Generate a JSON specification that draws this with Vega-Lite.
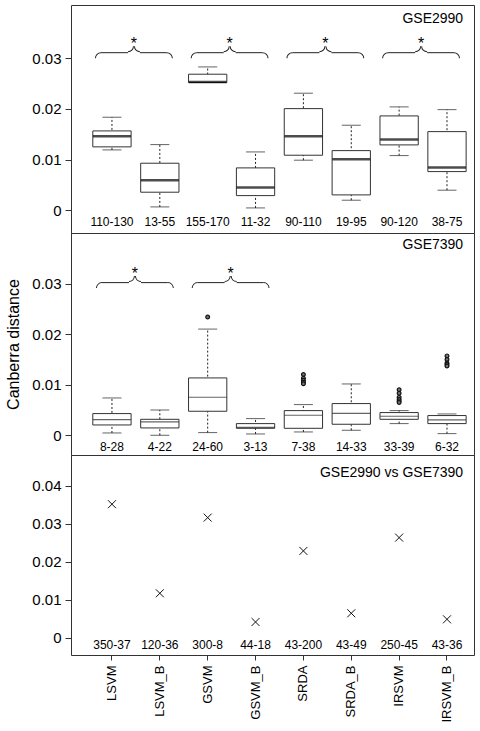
{
  "$schema": "https://vega.github.io/schema/vega-lite/v6.json",
  "padding": {"left": 5, "top": 4, "right": 4, "bottom": 4},
  "spacing": 0,
  "bounds": "flush",
  "resolve": {"scale": {"x": "independent", "y": "independent"}},
  "config": {
    "view": {"stroke": "#333", "strokeWidth": 1},
    "font": "Liberation Sans",
    "text": {"font": "Liberation Sans", "color": "#000"},
    "axis": {"grid": false, "domain": false, "tickColor": "#333", "labelColor": "#000", "labelFont": "Liberation Sans", "labelFontSize": 15, "tickSize": 6, "labelPadding": 4, "titleFont": "Liberation Sans", "titleFontWeight": "normal", "titleColor": "#000", "titleFontSize": 16},
    "axisX": {"labelFontSize": 13, "labelAngle": -90, "labelAlign": "right", "labelBaseline": "middle", "tickSize": 5, "labelPadding": 5}
  },
  "datasets": {
    "box1": [
      {"method": "LSVM", "lo": 0.0119, "q1": 0.0125, "med": 0.0146, "q3": 0.01565, "hi": 0.01835, "n": "110-130"},
      {"method": "LSVM_B", "lo": 0.00065, "q1": 0.00355, "med": 0.0059, "q3": 0.00927, "hi": 0.01295, "n": "13-55"},
      {"method": "GSVM", "lo": 0.0252, "q1": 0.0252, "med": 0.02532, "q3": 0.02684, "hi": 0.02828, "n": "155-170"},
      {"method": "GSVM_B", "lo": 0.00045, "q1": 0.00288, "med": 0.00446, "q3": 0.00835, "hi": 0.0115, "n": "11-32"},
      {"method": "SRDA", "lo": 0.00987, "q1": 0.01085, "med": 0.0146, "q3": 0.02005, "hi": 0.02309, "n": "90-110"},
      {"method": "SRDA_B", "lo": 0.00197, "q1": 0.00302, "med": 0.01006, "q3": 0.01176, "hi": 0.01677, "n": "19-95"},
      {"method": "IRSVM", "lo": 0.01078, "q1": 0.01289, "med": 0.01393, "q3": 0.01861, "hi": 0.02039, "n": "90-120"},
      {"method": "IRSVM_B", "lo": 0.00395, "q1": 0.00762, "med": 0.00841, "q3": 0.01551, "hi": 0.01985, "n": "38-75"}
    ],
    "box2": [
      {"method": "LSVM", "lo": 0.00046, "q1": 0.00204, "med": 0.0031, "q3": 0.00429, "hi": 0.00738, "n": "8-28"},
      {"method": "LSVM_B", "lo": 0.0, "q1": 0.00145, "med": 0.00264, "q3": 0.00316, "hi": 0.005, "n": "4-22"},
      {"method": "GSVM", "lo": 0.00053, "q1": 0.00475, "med": 0.00752, "q3": 0.01134, "hi": 0.021, "n": "24-60"},
      {"method": "GSVM_B", "lo": 0.00026, "q1": 0.00138, "med": 0.00158, "q3": 0.00231, "hi": 0.0033, "n": "3-13"},
      {"method": "SRDA", "lo": 0.00066, "q1": 0.00138, "med": 0.00396, "q3": 0.00488, "hi": 0.00607, "n": "7-38"},
      {"method": "SRDA_B", "lo": 0.00099, "q1": 0.00218, "med": 0.00435, "q3": 0.00627, "hi": 0.01015, "n": "14-33"},
      {"method": "IRSVM", "lo": 0.00231, "q1": 0.00316, "med": 0.00376, "q3": 0.00449, "hi": 0.00488, "n": "33-39"},
      {"method": "IRSVM_B", "lo": 0.00033, "q1": 0.00231, "med": 0.00303, "q3": 0.0039, "hi": 0.00422, "n": "6-32"}
    ],
    "outliers2": [
      {"method": "GSVM", "value": 0.0234},
      {"method": "SRDA", "value": 0.0120},
      {"method": "SRDA", "value": 0.0113},
      {"method": "SRDA", "value": 0.0109},
      {"method": "SRDA", "value": 0.0105},
      {"method": "SRDA", "value": 0.0102},
      {"method": "IRSVM", "value": 0.0090},
      {"method": "IRSVM", "value": 0.0083},
      {"method": "IRSVM", "value": 0.0075},
      {"method": "IRSVM", "value": 0.0071},
      {"method": "IRSVM", "value": 0.0068},
      {"method": "IRSVM", "value": 0.0065},
      {"method": "IRSVM_B", "value": 0.0157},
      {"method": "IRSVM_B", "value": 0.0150},
      {"method": "IRSVM_B", "value": 0.0143},
      {"method": "IRSVM_B", "value": 0.0140},
      {"method": "IRSVM_B", "value": 0.0137}
    ],
    "cross3": [
      {"method": "LSVM", "value": 0.0352, "n": "350-37"},
      {"method": "LSVM_B", "value": 0.01171, "n": "120-36"},
      {"method": "GSVM", "value": 0.03166, "n": "300-8"},
      {"method": "GSVM_B", "value": 0.00414, "n": "44-18"},
      {"method": "SRDA", "value": 0.02288, "n": "43-200"},
      {"method": "SRDA_B", "value": 0.00644, "n": "43-49"},
      {"method": "IRSVM", "value": 0.02639, "n": "250-45"},
      {"method": "IRSVM_B", "value": 0.00485, "n": "43-36"}
    ],
    "braces1": [
      {"from": "LSVM", "to": "LSVM_B", "y": 0.03, "mark": "*"},
      {"from": "GSVM", "to": "GSVM_B", "y": 0.03, "mark": "*"},
      {"from": "SRDA", "to": "SRDA_B", "y": 0.03, "mark": "*"},
      {"from": "IRSVM", "to": "IRSVM_B", "y": 0.03, "mark": "*"}
    ],
    "braces2": [
      {"from": "LSVM", "to": "LSVM_B", "y": 0.0291, "mark": "*"},
      {"from": "GSVM", "to": "GSVM_B", "y": 0.0291, "mark": "*"}
    ],
    "panels": [
      {"panel": "p1", "label": "GSE2990"},
      {"panel": "p2", "label": "GSE7390"},
      {"panel": "p3", "label": "GSE2990 vs GSE7390"}
    ]
  },
  "vconcat": [
    {
      "width": 403,
      "height": 228,
      "layer": [
        {
          "data": {"name": "box1"},
          "mark": {"type": "rule", "color": "#222", "strokeDash": [2, 2], "strokeWidth": 1},
          "encoding": {
            "x": {"field": "method", "type": "nominal", "scale": {"type": "band", "domain": ["LSVM", "LSVM_B", "GSVM", "GSVM_B", "SRDA", "SRDA_B", "IRSVM", "IRSVM_B"], "paddingInner": 0.2, "paddingOuter": 0.31, "align": 0.735, "round": false}, "axis": null},
            "y": {"field": "lo", "type": "quantitative", "scale": {"domain": [-0.0045, 0.0405], "nice": false, "zero": false}, "axis": {"values": [0, 0.01, 0.02, 0.03], "format": ".2~f", "title": null}},
            "y2": {"field": "hi"}
          }
        },
        {
          "data": {"name": "box1"},
          "mark": {"type": "tick", "color": "#222", "size": 19, "thickness": 1, "orient": "horizontal"},
          "encoding": {
            "x": {"field": "method", "type": "nominal"},
            "y": {"field": "hi", "type": "quantitative"}
          }
        },
        {
          "data": {"name": "box1"},
          "mark": {"type": "tick", "color": "#222", "size": 19, "thickness": 1, "orient": "horizontal"},
          "encoding": {
            "x": {"field": "method", "type": "nominal"},
            "y": {"field": "lo", "type": "quantitative"}
          }
        },
        {
          "data": {"name": "box1"},
          "mark": {"type": "bar", "fill": "white", "stroke": "#333", "strokeWidth": 1},
          "encoding": {
            "x": {"field": "method", "type": "nominal"},
            "y": {"field": "q1", "type": "quantitative"},
            "y2": {"field": "q3"}
          }
        },
        {
          "data": {"name": "box1"},
          "mark": {"type": "tick", "color": "#000", "size": 38, "thickness": 2.5, "orient": "horizontal"},
          "encoding": {
            "x": {"field": "method", "type": "nominal"},
            "y": {"field": "med", "type": "quantitative"}
          }
        },
        {
          "data": {"name": "box1"},
          "mark": {"type": "text", "fontSize": 12, "baseline": "middle", "align": "center", "color": "#000"},
          "encoding": {
            "x": {"field": "method", "type": "nominal"},
            "y": {"datum": -0.0023, "type": "quantitative"},
            "text": {"field": "n"}
          }
        },
        {
          "data": {"name": "panels"},
          "transform": [{"filter": "datum.panel == 'p1'"}],
          "mark": {"type": "text", "fontSize": 14, "baseline": "middle", "align": "right", "dx": -3, "color": "#000"},
          "encoding": {
            "x": {"datum": "IRSVM_B", "type": "nominal", "bandPosition": 1},
            "y": {"datum": 0.0378, "type": "quantitative"},
            "text": {"field": "label"}
          }
        },
        {
          "data": {"name": "braces1"},
          "mark": {"type": "arc", "radius": 6, "radius2": 5, "theta": 4.712, "theta2": 6.283, "xOffset": -11, "color": "#222"},
          "encoding": {"x": {"field": "from", "type": "nominal"}, "y": {"field": "y", "type": "quantitative"}}
        },
        {
          "data": {"name": "braces1"},
          "mark": {"type": "arc", "radius": 6, "radius2": 5, "theta": 1.5708, "theta2": 3.1416, "xOffset": 16, "yOffset": -12, "color": "#222"},
          "encoding": {"x": {"field": "from", "type": "nominal"}, "y": {"field": "y", "type": "quantitative"}}
        },
        {
          "data": {"name": "braces1"},
          "mark": {"type": "arc", "radius": 6, "radius2": 5, "theta": 3.1416, "theta2": 4.712, "xOffset": 28, "yOffset": -12, "color": "#222"},
          "encoding": {"x": {"field": "from", "type": "nominal"}, "y": {"field": "y", "type": "quantitative"}}
        },
        {
          "data": {"name": "braces1"},
          "mark": {"type": "arc", "radius": 6, "radius2": 5, "theta": 0, "theta2": 1.5708, "xOffset": 7, "color": "#222"},
          "encoding": {"x": {"field": "to", "type": "nominal"}, "y": {"field": "y", "type": "quantitative"}}
        },
        {
          "data": {"name": "braces1"},
          "mark": {"type": "rule", "color": "#222", "strokeWidth": 1, "xOffset": -11, "x2Offset": 16, "yOffset": -5.5, "y2Offset": -5.5},
          "encoding": {"x": {"field": "from", "type": "nominal"}, "x2": {"field": "from"}, "y": {"field": "y", "type": "quantitative"}, "y2": {"field": "y"}}
        },
        {
          "data": {"name": "braces1"},
          "mark": {"type": "rule", "color": "#222", "strokeWidth": 1, "xOffset": 28, "x2Offset": 7, "yOffset": -5.5, "y2Offset": -5.5},
          "encoding": {"x": {"field": "from", "type": "nominal"}, "x2": {"field": "to"}, "y": {"field": "y", "type": "quantitative"}, "y2": {"field": "y"}}
        },
        {
          "data": {"name": "braces1"},
          "mark": {"type": "text", "fontSize": 16, "baseline": "alphabetic", "align": "center", "dx": 22, "dy": -9, "color": "#000"},
          "encoding": {"x": {"field": "from", "type": "nominal"}, "y": {"field": "y", "type": "quantitative"}, "text": {"field": "mark"}}
        }
      ]
    },
    {
      "width": 403,
      "height": 222,
      "layer": [
        {
          "data": {"name": "box2"},
          "mark": {"type": "rule", "color": "#222", "strokeDash": [2, 2], "strokeWidth": 1},
          "encoding": {
            "x": {"field": "method", "type": "nominal", "scale": {"type": "band", "domain": ["LSVM", "LSVM_B", "GSVM", "GSVM_B", "SRDA", "SRDA_B", "IRSVM", "IRSVM_B"], "paddingInner": 0.2, "paddingOuter": 0.31, "align": 0.735, "round": false}, "axis": null},
            "y": {"field": "lo", "type": "quantitative", "scale": {"domain": [-0.0039, 0.04], "nice": false, "zero": false}, "axis": {"values": [0, 0.01, 0.02, 0.03], "format": ".2~f", "title": "Canberra distance", "titlePadding": 10}},
            "y2": {"field": "hi"}
          }
        },
        {
          "data": {"name": "box2"},
          "mark": {"type": "tick", "color": "#222", "size": 19, "thickness": 1, "orient": "horizontal"},
          "encoding": {
            "x": {"field": "method", "type": "nominal"},
            "y": {"field": "hi", "type": "quantitative"}
          }
        },
        {
          "data": {"name": "box2"},
          "mark": {"type": "tick", "color": "#222", "size": 19, "thickness": 1, "orient": "horizontal"},
          "encoding": {
            "x": {"field": "method", "type": "nominal"},
            "y": {"field": "lo", "type": "quantitative"}
          }
        },
        {
          "data": {"name": "box2"},
          "mark": {"type": "bar", "fill": "white", "stroke": "#333", "strokeWidth": 1},
          "encoding": {
            "x": {"field": "method", "type": "nominal"},
            "y": {"field": "q1", "type": "quantitative"},
            "y2": {"field": "q3"}
          }
        },
        {
          "data": {"name": "box2"},
          "mark": {"type": "tick", "color": "#222", "size": 38, "thickness": 1.2, "orient": "horizontal"},
          "encoding": {
            "x": {"field": "method", "type": "nominal"},
            "y": {"field": "med", "type": "quantitative"}
          }
        },
        {
          "data": {"name": "outliers2"},
          "mark": {"type": "point", "filled": false, "fill": "#777", "stroke": "#111", "strokeWidth": 1.2, "size": 14, "opacity": 1},
          "encoding": {
            "x": {"field": "method", "type": "nominal"},
            "y": {"field": "value", "type": "quantitative"}
          }
        },
        {
          "data": {"name": "box2"},
          "mark": {"type": "text", "fontSize": 12, "baseline": "middle", "align": "center", "color": "#000"},
          "encoding": {
            "x": {"field": "method", "type": "nominal"},
            "y": {"datum": -0.0024, "type": "quantitative"},
            "text": {"field": "n"}
          }
        },
        {
          "data": {"name": "panels"},
          "transform": [{"filter": "datum.panel == 'p2'"}],
          "mark": {"type": "text", "fontSize": 14, "baseline": "middle", "align": "right", "dx": -3, "color": "#000"},
          "encoding": {
            "x": {"datum": "IRSVM_B", "type": "nominal", "bandPosition": 1},
            "y": {"datum": 0.0376, "type": "quantitative"},
            "text": {"field": "label"}
          }
        },
        {
          "data": {"name": "braces2"},
          "mark": {"type": "arc", "radius": 6, "radius2": 5, "theta": 4.712, "theta2": 6.283, "xOffset": -10, "color": "#222"},
          "encoding": {"x": {"field": "from", "type": "nominal"}, "y": {"field": "y", "type": "quantitative"}}
        },
        {
          "data": {"name": "braces2"},
          "mark": {"type": "arc", "radius": 6, "radius2": 5, "theta": 1.5708, "theta2": 3.1416, "xOffset": 17, "yOffset": -12, "color": "#222"},
          "encoding": {"x": {"field": "from", "type": "nominal"}, "y": {"field": "y", "type": "quantitative"}}
        },
        {
          "data": {"name": "braces2"},
          "mark": {"type": "arc", "radius": 6, "radius2": 5, "theta": 3.1416, "theta2": 4.712, "xOffset": 29, "yOffset": -12, "color": "#222"},
          "encoding": {"x": {"field": "from", "type": "nominal"}, "y": {"field": "y", "type": "quantitative"}}
        },
        {
          "data": {"name": "braces2"},
          "mark": {"type": "arc", "radius": 6, "radius2": 5, "theta": 0, "theta2": 1.5708, "xOffset": 8, "color": "#222"},
          "encoding": {"x": {"field": "to", "type": "nominal"}, "y": {"field": "y", "type": "quantitative"}}
        },
        {
          "data": {"name": "braces2"},
          "mark": {"type": "rule", "color": "#222", "strokeWidth": 1, "xOffset": -10, "x2Offset": 17, "yOffset": -5.5, "y2Offset": -5.5},
          "encoding": {"x": {"field": "from", "type": "nominal"}, "x2": {"field": "from"}, "y": {"field": "y", "type": "quantitative"}, "y2": {"field": "y"}}
        },
        {
          "data": {"name": "braces2"},
          "mark": {"type": "rule", "color": "#222", "strokeWidth": 1, "xOffset": 29, "x2Offset": 8, "yOffset": -5.5, "y2Offset": -5.5},
          "encoding": {"x": {"field": "from", "type": "nominal"}, "x2": {"field": "to"}, "y": {"field": "y", "type": "quantitative"}, "y2": {"field": "y"}}
        },
        {
          "data": {"name": "braces2"},
          "mark": {"type": "text", "fontSize": 16, "baseline": "alphabetic", "align": "center", "dx": 23, "dy": -9, "color": "#000"},
          "encoding": {"x": {"field": "from", "type": "nominal"}, "y": {"field": "y", "type": "quantitative"}, "text": {"field": "mark"}}
        }
      ]
    },
    {
      "width": 403,
      "height": 200,
      "layer": [
        {
          "data": {"name": "cross3"},
          "mark": {"type": "point", "shape": "M-1,-1L1,1M-1,1L1,-1", "filled": false, "stroke": "#111", "strokeWidth": 1, "size": 64, "opacity": 1},
          "encoding": {
            "x": {"field": "method", "type": "nominal", "scale": {"type": "band", "domain": ["LSVM", "LSVM_B", "GSVM", "GSVM_B", "SRDA", "SRDA_B", "IRSVM", "IRSVM_B"], "paddingInner": 0.2, "paddingOuter": 0.31, "align": 0.735, "round": false}, "axis": {"title": null, "labelAngle": -90, "labelAlign": "right", "labelBaseline": "middle", "labelFontSize": 13, "tickSize": 5, "labelPadding": 5}},
            "y": {"field": "value", "type": "quantitative", "scale": {"domain": [-0.00456, 0.04817], "nice": false, "zero": false}, "axis": {"values": [0, 0.01, 0.02, 0.03, 0.04], "format": ".2~f", "title": null}}
          }
        },
        {
          "data": {"name": "cross3"},
          "mark": {"type": "text", "fontSize": 12, "baseline": "middle", "align": "center", "color": "#000"},
          "encoding": {
            "x": {"field": "method", "type": "nominal"},
            "y": {"datum": -0.002, "type": "quantitative"},
            "text": {"field": "n"}
          }
        },
        {
          "data": {"name": "panels"},
          "transform": [{"filter": "datum.panel == 'p3'"}],
          "mark": {"type": "text", "fontSize": 14, "baseline": "middle", "align": "right", "dx": -3, "color": "#000"},
          "encoding": {
            "x": {"datum": "IRSVM_B", "type": "nominal", "bandPosition": 1},
            "y": {"datum": 0.04346, "type": "quantitative"},
            "text": {"field": "label"}
          }
        }
      ]
    }
  ]
}
